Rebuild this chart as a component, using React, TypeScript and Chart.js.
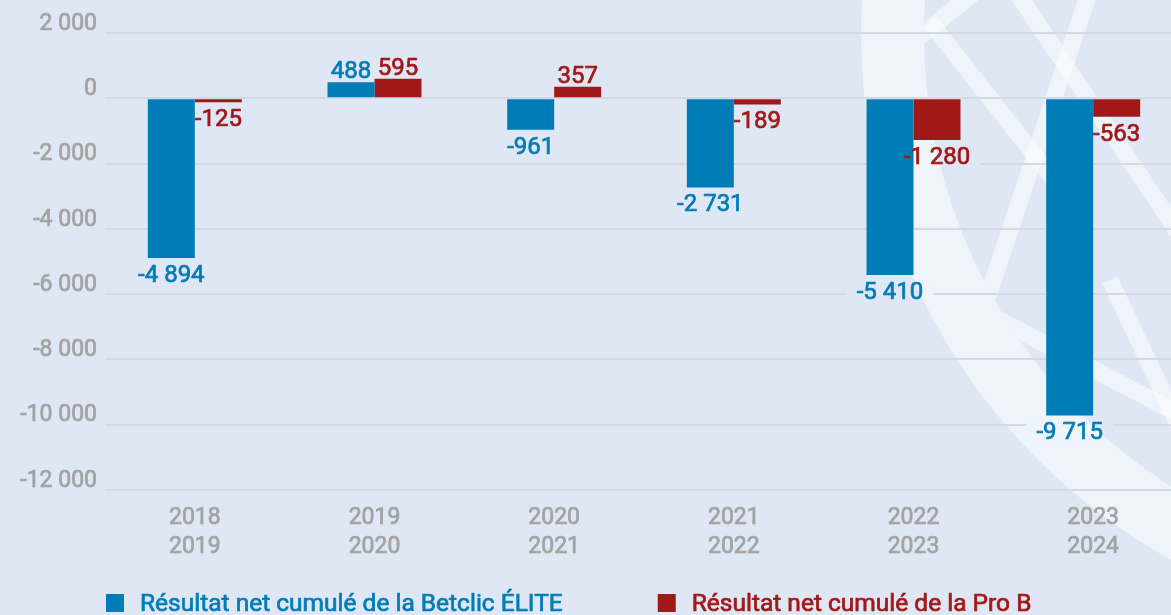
import React, { useEffect, useRef } from 'react';
import { Chart, registerables } from 'chart.js';

Chart.register(...registerables);

const categories: string[][] = [
  ['2018', '2019'],
  ['2019', '2020'],
  ['2020', '2021'],
  ['2021', '2022'],
  ['2022', '2023'],
  ['2023', '2024'],
];
const eliteValues: number[] = [-4894, 488, -961, -2731, -5410, -9715];
const proBValues: number[] = [-125, 595, 357, -189, -1280, -563];
const seriesLabels: string[] = ['Résultat net cumulé de la Betclic ÉLITE', 'Résultat net cumulé de la Pro B'];
const seriesColors: string[] = ['#007db7', '#a11818'];
const yMin = -12000;
const yMax = 2000;
const yStep = 2000;

const BG = '#dfe6f4';
const GRAY = '#a3a3a3';
const FONT = 'Roboto';
const STROKE = 0.7;

const fmt = (v: number) => {
  const s = Math.abs(Math.round(v)).toString().replace(/\B(?=(\d{3})+(?!\d))/g, ' ');
  return (v < 0 ? '-' : '') + s;
};

function drawBackground(ctx: CanvasRenderingContext2D, width: number, height: number) {
  ctx.save();
  ctx.fillStyle = BG;
  ctx.fillRect(0, 0, width, height);
  const cx = 1462, cy = 34, rOut = 601, rIn = 538;
  ctx.beginPath();
  ctx.arc(cx, cy, rOut, 0, Math.PI * 2);
  ctx.arc(cx, cy, rIn, 0, Math.PI * 2, true);
  ctx.fillStyle = 'rgba(255,255,255,0.5)';
  ctx.fill();
  ctx.beginPath();
  ctx.arc(cx, cy, rIn, 0, Math.PI * 2);
  ctx.clip();
  ctx.strokeStyle = 'rgba(255,255,255,0.5)';
  ctx.lineWidth = 17;
  const lines = [
    [915, 40, 990, -20],
    [930, 22, 1070, 200],
    [1015, -10, 1190, 250],
    [1090, -10, 980, 320],
    [990, 315, 1190, 420],
    [1110, 280, 1190, 450],
  ];
  lines.forEach(([x1, y1, x2, y2]) => {
    ctx.beginPath();
    ctx.moveTo(x1, y1);
    ctx.lineTo(x2, y2);
    ctx.stroke();
  });
  ctx.restore();
}

const backgroundPlugin = {
  id: 'bgDecor',
  beforeDraw(chart: any) {
    drawBackground(chart.ctx, chart.width, chart.height);
  },
};

const LABEL_FONT = `400 24px ${FONT}`;
const labelY = (v: number, el: any) => (v < 0 ? el.y + 24 : el.y - 4);

const labelsPlugin = {
  id: 'valueLabels',
  beforeDatasetsDraw(chart: any) {
    const { ctx } = chart;
    chart.data.datasets.forEach((ds: any, di: number) => {
      const meta = chart.getDatasetMeta(di);
      meta.data.forEach((el: any, i: number) => {
        const v = ds.data[i];
        const text = fmt(v);
        const y = labelY(v, el);
        ctx.save();
        ctx.font = LABEL_FONT;
        const w = ctx.measureText(text).width;
        ctx.beginPath();
        ctx.rect(el.x - w / 2 - 10, y - 18, w + 20, 19);
        ctx.clip();
        drawBackground(ctx, chart.width, chart.height);
        ctx.restore();
      });
    });
  },
  afterDatasetsDraw(chart: any) {
    const { ctx } = chart;
    ctx.save();
    ctx.font = LABEL_FONT;
    ctx.textAlign = 'center';
    ctx.textBaseline = 'alphabetic';
    ctx.lineWidth = STROKE;
    ctx.lineJoin = 'round';
    chart.data.datasets.forEach((ds: any, di: number) => {
      const meta = chart.getDatasetMeta(di);
      meta.data.forEach((el: any, i: number) => {
        const v = ds.data[i];
        ctx.fillStyle = ds.backgroundColor;
        ctx.strokeStyle = ds.backgroundColor;
        ctx.strokeText(fmt(v), el.x, labelY(v, el));
        ctx.fillText(fmt(v), el.x, labelY(v, el));
      });
    });
    ctx.restore();
  },
};

const legendPlugin = {
  id: 'customLegend',
  afterDraw(chart: any) {
    const { ctx, chartArea } = chart;
    ctx.save();
    ctx.font = `400 24.5px ${FONT}`;
    ctx.textBaseline = 'alphabetic';
    ctx.textAlign = 'left';
    ctx.lineWidth = STROKE;
    ctx.lineJoin = 'round';
    let x = chartArea.left + 1;
    const baseY = 611;
    chart.data.datasets.forEach((ds: any) => {
      ctx.fillStyle = ds.backgroundColor;
      ctx.strokeStyle = ds.backgroundColor;
      ctx.fillRect(x, 594, 18, 18);
      ctx.strokeText(ds.label, x + 34, baseY);
      ctx.fillText(ds.label, x + 34, baseY);
      x += 34 + ctx.measureText(ds.label).width + 95;
    });
    ctx.restore();
  },
};

export default function App() {
  const ref = useRef<HTMLCanvasElement | null>(null);
  useEffect(() => {
    if (!ref.current) return;
    const chart = new Chart(ref.current, {
      type: 'bar',
      data: {
        labels: categories,
        datasets: [
          {
            label: seriesLabels[0],
            data: eliteValues,
            backgroundColor: seriesColors[0],
            barPercentage: 1,
            categoryPercentage: 0.523,
          },
          {
            label: seriesLabels[1],
            data: proBValues,
            backgroundColor: seriesColors[1],
            barPercentage: 1,
            categoryPercentage: 0.523,
          },
        ],
      },
      options: {
        animation: false,
        responsive: false,
        maintainAspectRatio: false,
        devicePixelRatio: 1,
        layout: { padding: { top: 33, left: 0, right: 0, bottom: 0 } },
        plugins: {
          legend: { display: false },
          tooltip: { enabled: false },
        },
        scales: {
          x: {
            grid: { display: false, drawTicks: false },
            border: { display: false },
            ticks: {
              color: GRAY,
              font: { family: FONT, size: 23, weight: '400', lineHeight: 1.25 },
              textStrokeColor: GRAY,
              textStrokeWidth: STROKE,
              padding: 14,
              maxRotation: 0,
              autoSkip: false,
            },
            afterFit: (s: any) => {
              s.height = 125;
            },
          },
          y: {
            min: yMin,
            max: yMax,
            grid: { color: '#d5d9e1', lineWidth: 2, drawTicks: false },
            border: { display: false },
            ticks: {
              stepSize: yStep,
              color: GRAY,
              font: { family: FONT, size: 23, weight: '400' },
              textStrokeColor: GRAY,
              textStrokeWidth: STROKE,
              padding: 8,
              labelOffset: -9,
              callback: (v: any) => fmt(Number(v)),
            },
            afterFit: (s: any) => {
              s.width = 105;
            },
          },
        },
      },
      plugins: [backgroundPlugin, labelsPlugin, legendPlugin],
    } as any);
    return () => chart.destroy();
  }, []);
  return (
    <div style={{ position: 'fixed', left: 0, top: 0, width: 1171, height: 615, overflow: 'hidden', background: BG }}>
      <canvas ref={ref} width={1183} height={615} style={{ display: 'block', width: 1183, height: 615 }} />
    </div>
  );
}
